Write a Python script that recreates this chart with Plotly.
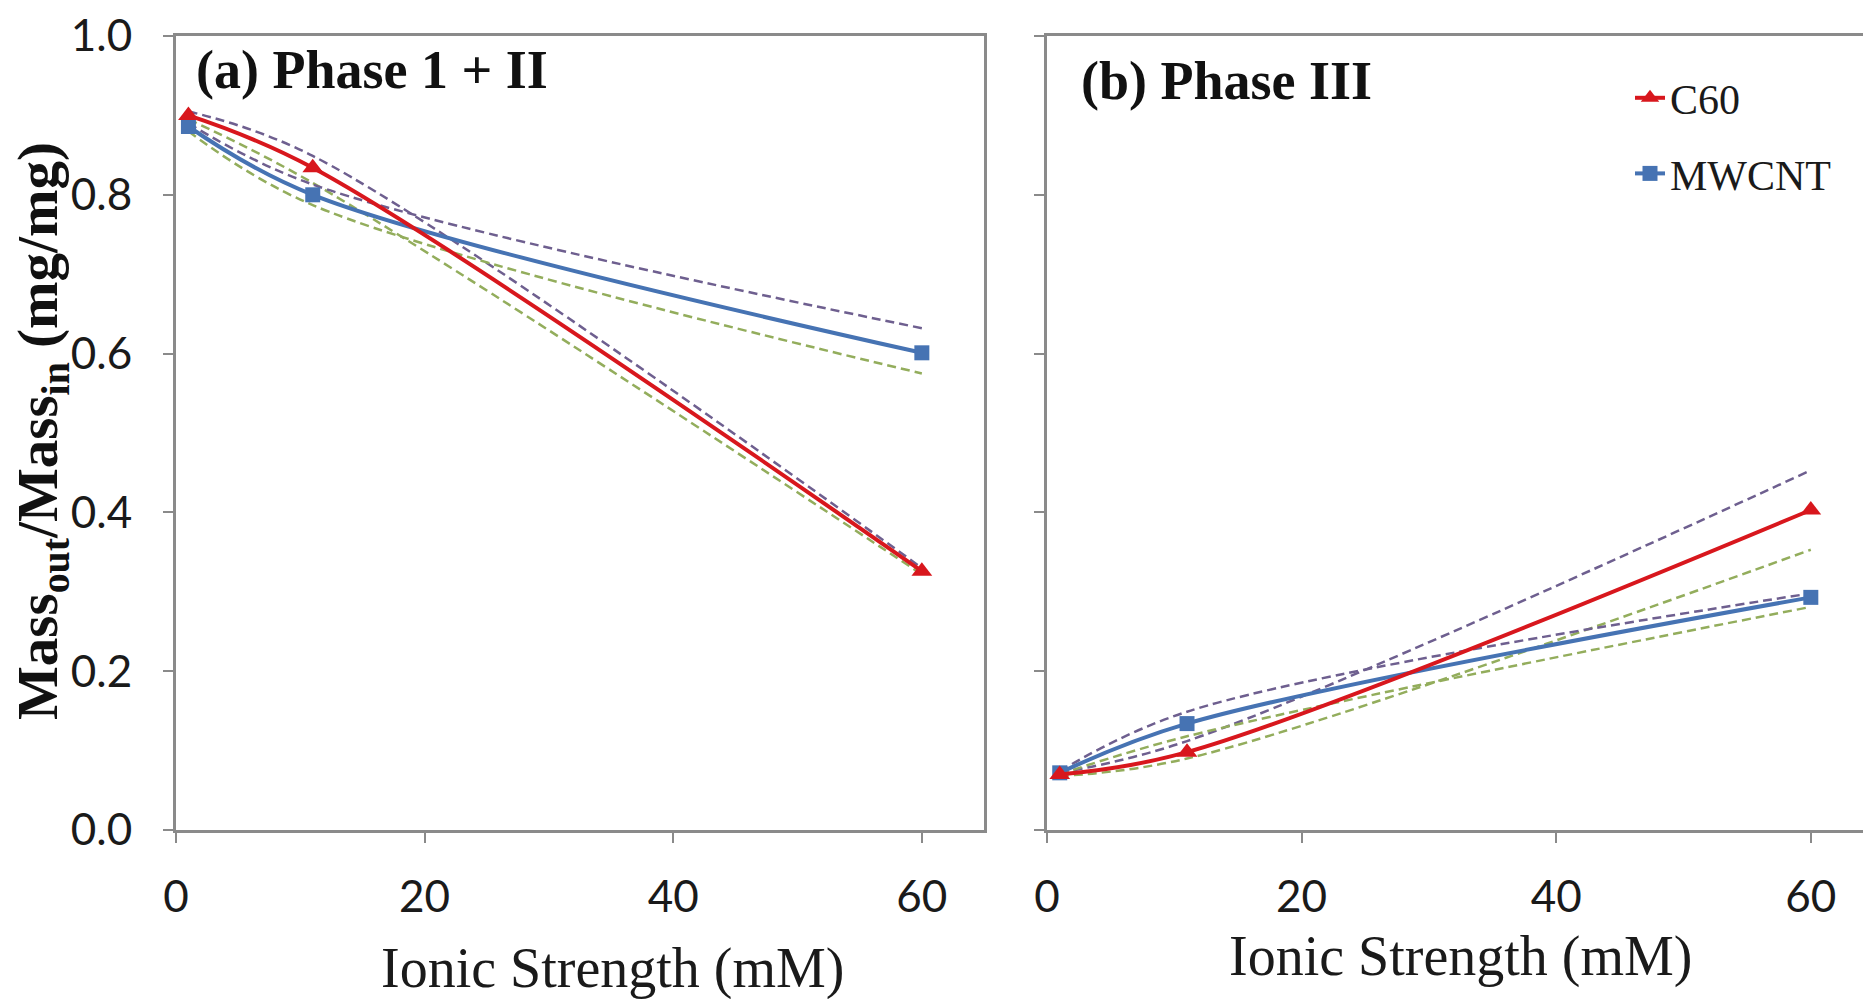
import plotly.graph_objects as go

# ---------------- data ----------------
ionic = [1, 11, 60]

# (a) Phase 1 + II
a_c60 = [0.900, 0.834, 0.326]
a_c60_hi = [0.905, 0.849, 0.330]
a_c60_lo = [0.895, 0.815, 0.322]
a_mw = [0.886, 0.800, 0.601]
a_mw_hi = [0.890, 0.813, 0.632]
a_mw_lo = [0.880, 0.787, 0.575]

# (b) Phase III
b_c60 = [0.070, 0.098, 0.403]
b_c60_hi = [0.072, 0.112, 0.453]
b_c60_lo = [0.068, 0.090, 0.353]
b_mw = [0.072, 0.134, 0.293]
b_mw_hi = [0.074, 0.149, 0.298]
b_mw_lo = [0.070, 0.118, 0.281]

series_names = ["C60", "MWCNT"]
x_ticks = [0, 20, 40, 60]
y_ticks = [0.0, 0.2, 0.4, 0.6, 0.8, 1.0]
y_ticklabels = ["0.0", "0.2", "0.4", "0.6", "0.8", "1.0"]

# ---------------- style ----------------
RED = "#d8171d"
BLUE = "#4673b3"
PURPLE = "#6e5f8f"
GREEN = "#93ad5c"
AXIS = "#8a8a8a"
SERIF = "Liberation Serif, Times New Roman, serif"
SANS = "Lato, Open Sans, sans-serif"

fig = go.Figure()


def add_panel(xa, ya, c60, c60_hi, c60_lo, mw, mw_hi, mw_lo, legend):
    for yy, col in [(c60_hi, PURPLE), (c60_lo, GREEN), (mw_hi, PURPLE), (mw_lo, GREEN)]:
        fig.add_trace(go.Scatter(
            x=ionic, y=yy, mode="lines", xaxis=xa, yaxis=ya, showlegend=False,
            line=dict(color=col, width=2.5, dash="9px,5px", shape="spline", smoothing=1),
            hoverinfo="skip"))
    fig.add_trace(go.Scatter(
        x=ionic, y=mw, mode="lines+markers", xaxis=xa, yaxis=ya,
        name=series_names[1], legendgroup="g2", legendrank=2, showlegend=legend,
        line=dict(color=BLUE, width=4, shape="spline", smoothing=1),
        marker=dict(symbol="square", size=15, color=BLUE)))
    fig.add_trace(go.Scatter(
        x=ionic, y=c60, mode="lines+markers", xaxis=xa, yaxis=ya,
        name=series_names[0], legendgroup="g1", legendrank=1, showlegend=legend,
        line=dict(color=RED, width=4, shape="spline", smoothing=1),
        marker=dict(symbol="triangle-up", size=18, color=RED)))


add_panel("x", "y", a_c60, a_c60_hi, a_c60_lo, a_mw, a_mw_hi, a_mw_lo, False)
add_panel("x2", "y2", b_c60, b_c60_hi, b_c60_lo, b_mw, b_mw_hi, b_mw_lo, True)

W, H = 1863, 999
ydom = [169 / H, 963 / H]

common_x = dict(tickvals=x_ticks, ticks="outside", ticklen=10, tickwidth=2,
                tickcolor=AXIS, showline=True, linecolor=AXIS, linewidth=3,
                mirror=True, showgrid=False, zeroline=False, automargin=False,
                tickfont=dict(family=SANS, size=44, color="#1a1a1a"),
                ticklabelstandoff=16)

fig.update_layout(
    width=W, height=H,
    margin=dict(l=0, r=0, t=0, b=0, autoexpand=False),
    paper_bgcolor="white", plot_bgcolor="white",
    xaxis=dict(domain=[176 / W, 984 / W], range=[0, 65], anchor="y", **common_x),
    xaxis2=dict(domain=[1047 / W, 1.0], range=[0, 64.1], anchor="y2", **common_x),
    yaxis=dict(domain=ydom, range=[0, 1.0], anchor="x", tickvals=y_ticks,
               ticktext=y_ticklabels, ticks="outside", ticklen=10, tickwidth=2,
               tickcolor=AXIS, showline=True, linecolor=AXIS, linewidth=3,
               mirror=True, showgrid=False, zeroline=False, automargin=False,
               tickfont=dict(family=SANS, size=44, color="#1a1a1a"),
               ticklabelstandoff=22),
    yaxis2=dict(domain=ydom, range=[0, 1.0], anchor="x2", tickvals=y_ticks,
                ticks="outside", ticklen=10, tickwidth=2, tickcolor=AXIS,
                showticklabels=False, showline=True, linecolor=AXIS, linewidth=3,
                mirror=False, showgrid=False, zeroline=False, automargin=False),
    legend=dict(x=1630 / W, y=1 - 64 / H, xanchor="left", yanchor="top",
                bgcolor="rgba(0,0,0,0)", borderwidth=0,
                font=dict(family=SERIF, size=42, color="#1a1a1a"),
                traceorder="grouped", tracegroupgap=18, itemwidth=30),
    showlegend=True,
    annotations=[
        dict(text="<b>(a) Phase 1 + II</b>", x=194 / W, y=1 - 70 / H, xref="paper",
             yref="paper", xanchor="left", yanchor="middle", showarrow=False,
             font=dict(family=SERIF, size=54, color="#111111")),
        dict(text="<b>(b) Phase III</b>", x=1079 / W, y=1 - 81 / H, xref="paper",
             yref="paper", xanchor="left", yanchor="middle", showarrow=False,
             font=dict(family=SERIF, size=54, color="#111111")),
        dict(text="Ionic Strength (mM)", x=612 / W, y=1 - 968 / H, xref="paper",
             yref="paper", xanchor="center", yanchor="middle", showarrow=False,
             font=dict(family=SERIF, size=56, color="#1a1a1a")),
        dict(text="Ionic Strength (mM)", x=1460 / W, y=1 - 956 / H, xref="paper",
             yref="paper", xanchor="center", yanchor="middle", showarrow=False,
             font=dict(family=SERIF, size=56, color="#1a1a1a")),
        dict(text="<b>Mass<sub>out</sub>/Mass<sub>in</sub> (mg/mg)</b>",
             x=42 / W, y=1 - 431 / H, xref="paper", yref="paper",
             xanchor="center", yanchor="middle", textangle=-90, showarrow=False,
             font=dict(family=SERIF, size=57, color="#111111")),
    ],
)

fig.write_html("out.html")
